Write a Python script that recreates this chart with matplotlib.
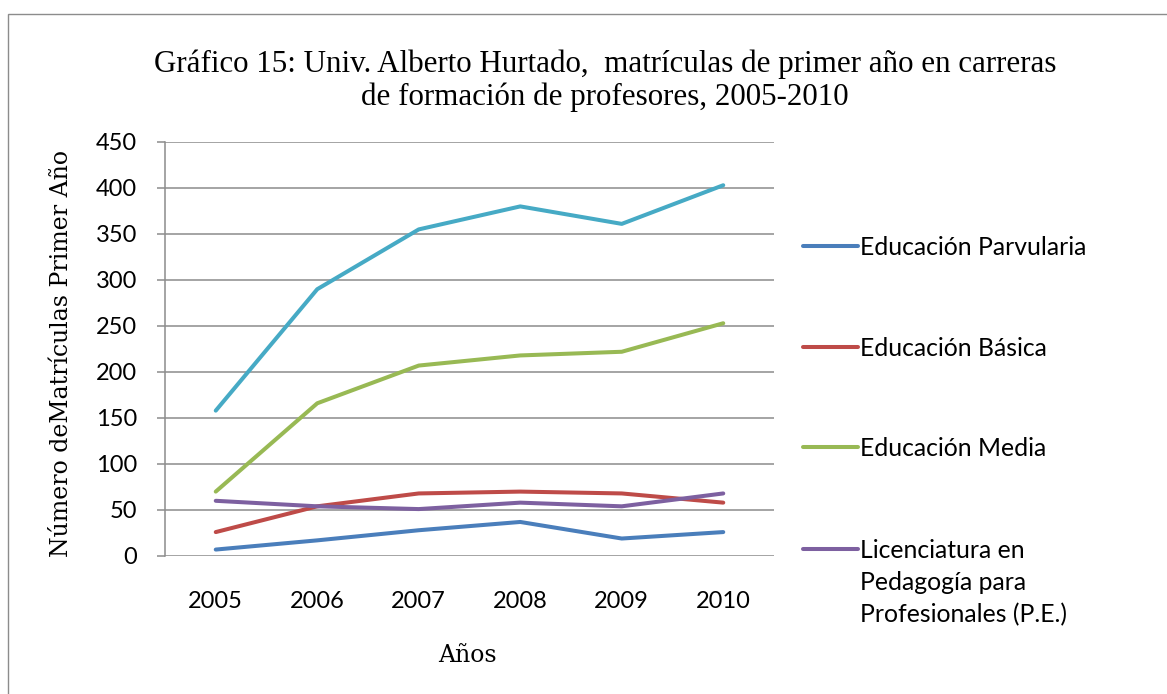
import matplotlib
matplotlib.use("Agg")
import matplotlib.pyplot as plt
from matplotlib.lines import Line2D
from matplotlib.patches import Rectangle

years = ["2005", "2006", "2007", "2008", "2009", "2010"]
parvularia = [7, 17, 28, 37, 19, 26]
basica = [26, 54, 68, 70, 68, 58]
media = [70, 166, 207, 218, 222, 253]
licenciatura = [60, 54, 51, 58, 54, 68]
total = [158, 290, 355, 380, 361, 403]

series_labels = ["Educación Parvularia", "Educación Básica", "Educación Media",
                 "Licenciatura en\nPedagogía para\nProfesionales (P.E.)"]
colors = ["#4A7EBB", "#BE4B48", "#98B954", "#7D60A0"]
total_color = "#46AAC5"
yticks = [0, 50, 100, 150, 200, 250, 300, 350, 400, 450]

W, H = 1167, 694
fig = plt.figure(figsize=(W / 100, H / 100), dpi=100)
fig.patch.set_facecolor("white")

# outer chart frame
fig.add_artist(Rectangle((8 / W, -0.1), 1.2, 1 - 14 / H + 0.1, transform=fig.transFigure,
                         fill=False, edgecolor="#8C8C8C", linewidth=1.0))

ax = fig.add_axes([165 / W, 1 - 556 / H, (774 - 165) / W, (556 - 142) / H])
x = list(range(len(years)))
lines = []
for vals, c in zip([parvularia, basica, media, licenciatura], colors):
    ln, = ax.plot(x, vals, color=c, linewidth=2.9, solid_capstyle="round", zorder=3)
    lines.append(ln)
ax.plot(x, total, color=total_color, linewidth=2.9, solid_capstyle="round", zorder=3)

ax.set_xlim(-0.5, 5.5)
ax.set_ylim(0, 450)
ax.set_yticks(yticks)
ax.yaxis.grid(True, color="#8C8C8C", linewidth=1.1)
ax.set_axisbelow(True)
for s in ["top", "right", "bottom"]:
    ax.spines[s].set_visible(False)
ax.spines["left"].set_color("#8C8C8C")
ax.spines["left"].set_linewidth(1.1)
ax.tick_params(axis="y", length=6, color="#8C8C8C", width=1.1, pad=14,
               labelsize=17)
ax.tick_params(axis="x", length=0, pad=25, labelsize=17)
ax.set_xticks(x)
ax.set_xticklabels(years)
for lab in ax.get_xticklabels() + ax.get_yticklabels():
    lab.set_fontfamily("Lato")
    lab.set_color("black")

ax.set_ylabel("Número deMatrículas Primer Año", fontfamily="DejaVu Serif", fontsize=17)
ax.yaxis.set_label_coords(-(165 - 62) / (774 - 165), 0.488)
ax.set_xlabel("Años", fontfamily="DejaVu Serif", fontsize=17)
ax.xaxis.set_label_coords((467 - 165) / (774 - 165), -(655 - 556) / (556 - 142))
ax.xaxis.label.set_va("center")
ax.yaxis.label.set_va("center")

fig.text(605 / W, 1 - 81 / H,
         "Gráfico 15: Univ. Alberto Hurtado,  matrículas de primer año en carreras\nde formación de profesores, 2005-2010",
         ha="center", va="center", fontfamily="Liberation Serif", fontsize=22.3,
         linespacing=1.17, color="black")

# legend (manual)
leg_y = [246, 347, 447, 549]
for ln, lab, yy in zip(lines, series_labels, leg_y):
    fig.add_artist(Line2D([803 / W, 858 / W], [1 - yy / H, 1 - yy / H],
                          transform=fig.transFigure, color=ln.get_color(),
                          linewidth=2.9, solid_capstyle="round"))
    fig.text(860 / W, 1 - (yy - 10) / H, lab, ha="left", va="top",
             fontfamily="Lato", fontsize=17.8, linespacing=1.48, color="black")

fig.savefig("out.png", dpi=100)
